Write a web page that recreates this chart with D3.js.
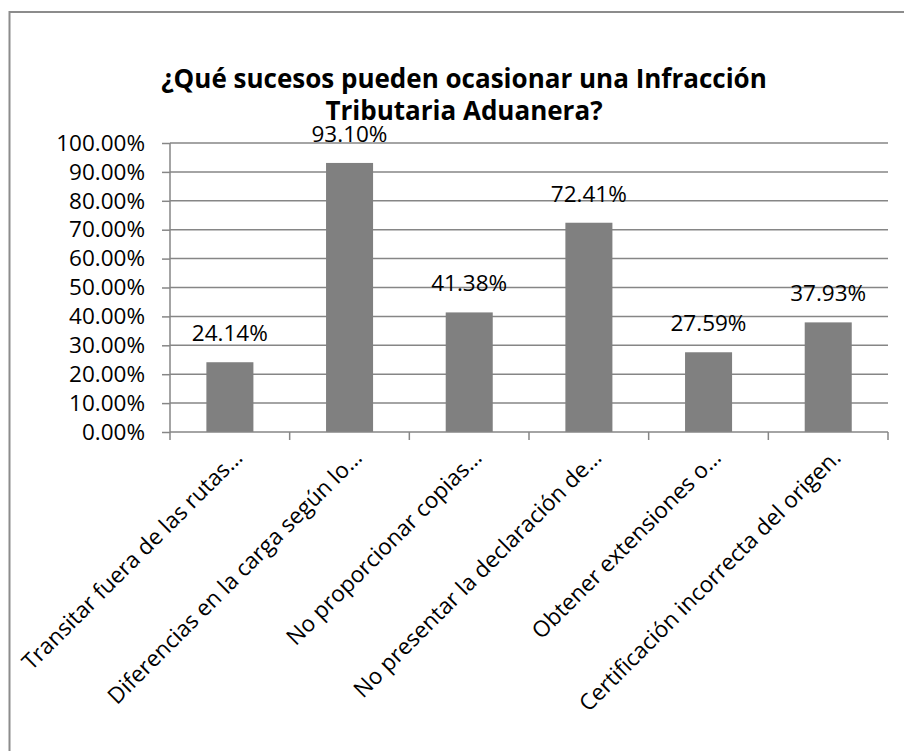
<!DOCTYPE html>
<html>
<head>
<meta charset="utf-8">
<script src="https://cdn.jsdelivr.net/npm/d3@7/dist/d3.min.js"></script>
<style>
  body { margin: 0; background: #fff; }
  svg { display: block; font-family: "Open Sans", sans-serif; }
</style>
</head>
<body>
<div id="bar-vis"></div>
<script>
var titleLines = ["¿Qué sucesos pueden ocasionar una Infracción", "Tributaria Aduanera?"];
var categories = [
  "Transitar fuera de las rutas…",
  "Diferencias en la carga según lo…",
  "No proporcionar copias…",
  "No presentar la declaración de…",
  "Obtener extensiones o…",
  "Certificación incorrecta del origen."
];
var values = [0.2414, 0.9310, 0.4138, 0.7241, 0.2759, 0.3793];
var yTicks = [0, 0.1, 0.2, 0.3, 0.4, 0.5, 0.6, 0.7, 0.8, 0.9, 1.0];

BarVis = function(_parentElement, _categories, _values) {
  this.parentElement = _parentElement;
  this.categories = _categories;
  this.values = _values;
  this.initVis();
  this.updateVis();
};

BarVis.prototype.initVis = function() {
  var vis = this;

  vis.totalWidth = 904;
  vis.totalHeight = 751;
  vis.margin = {
    'top': 143,
    'bottom': 319,
    'left': 170,
    'right': 16
  };
  vis.width = vis.totalWidth - vis.margin.left - vis.margin.right;
  vis.height = vis.totalHeight - vis.margin.top - vis.margin.bottom;
  vis.gray = "#868686";

  vis.root = d3.select("#" + vis.parentElement).append("svg")
    .attr("width", vis.totalWidth)
    .attr("height", vis.totalHeight);

  // chart frame
  vis.root.append("rect")
    .attr("x", 9.5)
    .attr("y", 12)
    .attr("width", vis.totalWidth)
    .attr("height", vis.totalHeight)
    .attr("fill", "none")
    .attr("stroke", "#8c8c8c")
    .attr("stroke-width", 2);

  vis.root.append("text")
    .attr("x", 464)
    .attr("y", 88)
    .attr("text-anchor", "middle")
    .style("font-size", "26px")
    .style("font-weight", "bold")
    .selectAll("tspan")
    .data(titleLines)
    .enter()
    .append("tspan")
    .attr("x", 464)
    .attr("dy", (d, i) => i === 0 ? 0 : 32)
    .text((d) => d);

  vis.svg = vis.root.append("g")
    .attr("transform", "translate(" + vis.margin.left + "," + vis.margin.top + ")");

  vis.xScale = d3.scaleBand()
    .domain(vis.categories)
    .range([0, vis.width]);

  vis.yScale = d3.scaleLinear()
    .domain([0, 1])
    .range([vis.height, 0]);

  vis.yAxis = d3.axisLeft()
    .scale(vis.yScale)
    .tickValues(yTicks)
    .tickSize(8)
    .tickPadding(17)
    .tickFormat(d3.format(".2%"));
}

BarVis.prototype.updateVis = function() {
  var vis = this;
  var bw = vis.xScale.bandwidth();

  // horizontal gridlines
  vis.svg.selectAll(".grid")
    .data(yTicks.slice(1))
    .enter()
    .append("line")
    .attr("class", "grid")
    .attr("x1", 0)
    .attr("x2", vis.width)
    .attr("y1", (d) => vis.yScale(d))
    .attr("y2", (d) => vis.yScale(d))
    .attr("stroke", vis.gray)
    .attr("stroke-width", 1.5);

  var yG = vis.svg.append("g")
    .attr("class", "axis y-axis")
    .call(vis.yAxis);
  yG.select(".domain").remove();
  yG.selectAll(".tick line").attr("stroke", vis.gray).attr("stroke-width", 1.5);
  yG.selectAll(".tick text")
    .attr("fill", "#000")
    .style("font-family", "'Open Sans', sans-serif")
    .style("font-size", "22.5px");

  vis.svg.append("line")
    .attr("x1", 0).attr("x2", 0)
    .attr("y1", 0).attr("y2", vis.height)
    .attr("stroke", vis.gray)
    .attr("stroke-width", 1.5);

  vis.svg.selectAll(".bar")
    .data(vis.values)
    .enter()
    .append("rect")
    .attr("class", "bar")
    .attr("x", (d, i) => vis.xScale(vis.categories[i]) + bw * 0.304)
    .attr("width", bw * 0.393)
    .attr("y", (d) => vis.yScale(d))
    .attr("height", (d) => vis.height - vis.yScale(d))
    .attr("fill", "#808080");

  // x axis line with ticks at category boundaries
  vis.svg.append("line")
    .attr("x1", 0).attr("x2", vis.width)
    .attr("y1", vis.height).attr("y2", vis.height)
    .attr("stroke", vis.gray)
    .attr("stroke-width", 1.5);

  var bounds = vis.categories.map((c) => vis.xScale(c)).concat([vis.width]);
  vis.svg.selectAll(".xtick")
    .data(bounds)
    .enter()
    .append("line")
    .attr("class", "xtick")
    .attr("x1", (d) => d).attr("x2", (d) => d)
    .attr("y1", vis.height).attr("y2", vis.height + 8)
    .attr("stroke", vis.gray)
    .attr("stroke-width", 1.5);

  vis.svg.selectAll(".val")
    .data(vis.values)
    .enter()
    .append("text")
    .attr("class", "val")
    .attr("x", (d, i) => vis.xScale(vis.categories[i]) + bw / 2)
    .attr("y", (d) => vis.yScale(d) - 21)
    .attr("text-anchor", "middle")
    .style("font-size", "22.5px")
    .text((d) => d3.format(".2%")(d));

  vis.svg.selectAll(".cat")
    .data(vis.categories)
    .enter()
    .append("text")
    .attr("class", "cat")
    .attr("text-anchor", "end")
    .attr("transform", (d) => {
      return "translate(" + (vis.xScale(d) + bw / 2 + 14) + "," + (vis.height + 27) + ") rotate(-45)";
    })
    .style("font-size", "22.5px")
    .text((d) => d);
}

var barVis = new BarVis("bar-vis", categories, values);
</script>
</body>
</html>
